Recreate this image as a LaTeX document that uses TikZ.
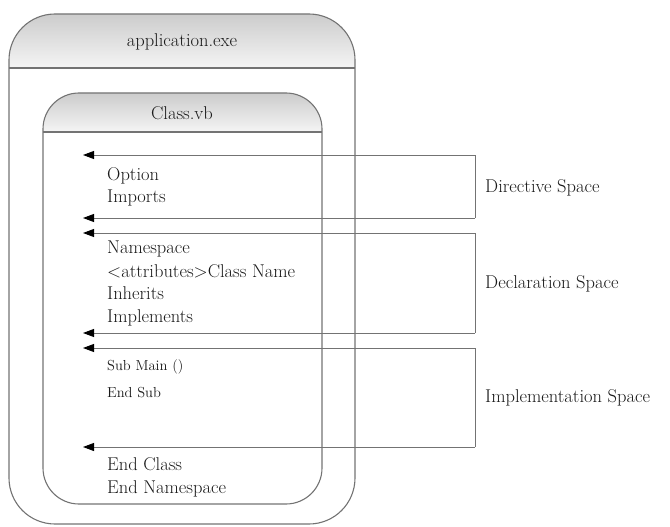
\documentclass[tikz,border=0pt]{standalone}
\usepackage{tikz}
\usetikzlibrary{arrows.meta}
\definecolor{lineGray}{rgb}{0.45,0.45,0.45}
\definecolor{textGray}{rgb}{0.1,0.1,0.1}

\tikzset{
  frame/.style={draw=lineGray,line width=1.1pt},
  space/.style={draw=lineGray,line width=0.9pt},
  entry/.style={-{Triangle[length=11pt,width=8pt,color=black]},draw=lineGray,line width=0.9pt},
  code/.style={anchor=base west,inner sep=0pt,text=textGray,font=\fontsize{18.5}{20}\selectfont},
  small/.style={code,font=\fontsize{14.5}{16}\selectfont},
  label/.style={anchor=base west,inner sep=0pt,text=textGray,font=\fontsize{18.5}{20}\selectfont},
  title/.style={anchor=base,inner sep=0pt,text=textGray,font=\fontsize{18.5}{20}\selectfont}
}

\begin{document}
\begin{tikzpicture}[x=1pt,y=-1pt]
                \useasboundingbox (0,0) rectangle (670,527);
                %Outer box
                \begin{scope}
                \clip[rounded corners=46pt] (9,14) rectangle (355,524);
                \shade[top color=black!20,bottom color=black!4] (9,14) rectangle (355,68);
                \end{scope}
                \draw[frame,rounded corners=46pt] (9,14) rectangle (355,524);
                \draw[frame] (9,68)--(355,68);
                \node[title] (app) at (182,47) {application.exe};
                %Inner box
                \begin{scope}
                \clip[rounded corners=36pt] (43,93) rectangle (322,504);
                \shade[top color=black!20,bottom color=black!4] (43,93) rectangle (322,132);
                \end{scope}
                \draw[frame,rounded corners=36pt] (43,93) rectangle (322,504);
                \draw[frame] (43,132)--(322,132);
                \node[title] (cls) at (182,120) {Class.vb};
                %Code lines
                \node[code] (opt) at (107,180) {Option};
                \node[code] (imp) at (107,202) {Imports};
                \node[code] (ns) at (107,253) {Namespace};
                \node[code] (attr) at (107,277) {<attributes>Class Name};
                \node[code] (inh) at (107,299) {Inherits};
                \node[code] (impl) at (107,322) {Implements};
                \node[small] (sub) at (107,370) {Sub Main ()};
                \node[small] (endsub) at (107,397) {End Sub};
                \node[code] (endcls) at (107,470) {End Class};
                \node[code] (endns) at (107,493) {End Namespace};
                %Spaces
                \coordinate (d1) at (475,155); \coordinate (d2) at (475,218);
                \coordinate (c1) at (475,233); \coordinate (c2) at (475,333);
                \coordinate (m1) at (475,348); \coordinate (m2) at (475,447);
                \coordinate (td1) at (83,155); \coordinate (td2) at (83,218);
                \coordinate (tc1) at (83,233); \coordinate (tc2) at (83,333);
                \coordinate (tm1) at (83,348); \coordinate (tm2) at (83,447);
                \draw[space] (d1)--(d2);
                \draw[space] (c1)--(c2);
                \draw[space] (m1)--(m2);
                \draw[entry] (d1)--(td1);
                \draw[entry] (d2)--(td2);
                \draw[entry] (c1)--(tc1);
                \draw[entry] (c2)--(tc2);
                \draw[entry] (m1)--(tm1);
                \draw[entry] (m2)--(tm2);
                \node[label] (dir) at (485,192) {Directive Space};
                \node[label] (dec) at (485,288) {Declaration Space};
                \node[label] (imps) at (485,402) {Implementation Space};
            \end{tikzpicture}
\end{document}
